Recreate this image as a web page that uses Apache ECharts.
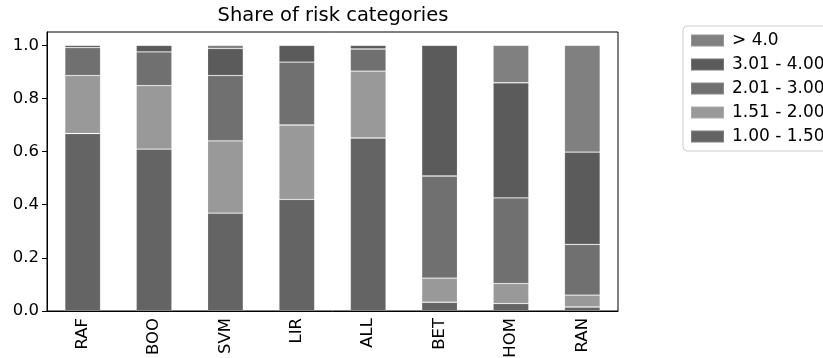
<!DOCTYPE html>
<html>
<head>
<meta charset="utf-8">
<script src="https://cdn.jsdelivr.net/npm/echarts@6/dist/echarts.min.js"></script>
<style>
  html, body { margin: 0; padding: 0; background: #fff; }
  #chart { width: 823px; height: 358px; }
</style>
</head>
<body>
<div id="chart"></div>
<script>
// Models compared
const models = ['RAF', 'BOO', 'SVM', 'LIR', 'ALL', 'BET', 'HOM', 'RAN'];

// Share of each risk category per model (stacked bottom to top)
const cat_1_00_1_50 = [0.668, 0.609, 0.368, 0.420, 0.651, 0.033, 0.028, 0.015];
const cat_1_51_2_00 = [0.218, 0.239, 0.272, 0.280, 0.252, 0.091, 0.075, 0.045];
const cat_2_01_3_00 = [0.105, 0.127, 0.246, 0.237, 0.083, 0.384, 0.323, 0.191];
const cat_3_01_4_00 = [0.009, 0.025, 0.102, 0.063, 0.014, 0.492, 0.433, 0.347];
const cat_above_4_0 = [0.000, 0.000, 0.012, 0.000, 0.000, 0.000, 0.141, 0.402];

const seriesNames = ['1.00 - 1.50', '1.51 - 2.00', '2.01 - 3.00', '3.01 - 4.00', '> 4.0'];
const seriesValues = [cat_1_00_1_50, cat_1_51_2_00, cat_2_01_3_00, cat_3_01_4_00, cat_above_4_0];
const seriesColors = ['#646464', '#999999', '#707070', '#5b5b5b', '#808080'];

const yTicks = [0, 0.2, 0.4, 0.6, 0.8, 1.0];

const FONT = 'DejaVu Sans';

const chart = echarts.init(document.getElementById('chart'), null, { renderer: 'canvas' });

chart.setOption({
  animation: false,
  backgroundColor: '#ffffff',
  title: {
    text: 'Share of risk categories',
    left: 333,
    top: 6,
    textAlign: 'center',
    padding: 0,
    textStyle: { fontFamily: FONT, fontSize: 19.5, fontWeight: 'normal', color: '#000' }
  },
  legend: {
    data: seriesNames.slice().reverse(),
    orient: 'vertical',
    left: 683,
    top: 26,
    padding: [6, 8, 6, 7],
    itemWidth: 33,
    itemHeight: 12,
    itemGap: 7,
    borderColor: '#cccccc',
    borderWidth: 1,
    borderRadius: 4,
    icon: 'rect',
    textStyle: { fontFamily: FONT, fontSize: 17, color: '#000', padding: [0, 0, 0, 3] }
  },
  grid: {
    left: 47,
    right: 205,
    top: 32,
    bottom: 47,
    outerBoundsMode: 'none',
    containLabel: false,
    show: true,
    borderColor: '#000',
    borderWidth: 1
  },
  xAxis: {
    type: 'category',
    data: models,
    boundaryGap: true,
    axisLine: { lineStyle: { color: '#000', width: 1 } },
    axisTick: { alignWithLabel: true, length: 5, lineStyle: { color: '#000' } },
    axisLabel: {
      rotate: 90,
      margin: 7,
      fontFamily: FONT,
      fontSize: 16.5,
      color: '#000'
    },
    splitLine: { show: false }
  },
  yAxis: {
    type: 'value',
    min: 0,
    max: 1.05,
    axisLine: { show: true, lineStyle: { color: '#000', width: 1 } },
    axisTick: { show: true, length: 5, lineStyle: { color: '#000' }, customValues: yTicks },
    axisLabel: {
      customValues: yTicks,
      margin: 8,
      fontFamily: FONT,
      fontSize: 16.5,
      color: '#000',
      formatter: v => v.toFixed(1)
    },
    splitLine: { show: false }
  },
  series: seriesNames.map((name, i) => ({
    name: name,
    type: 'bar',
    stack: 'share',
    barWidth: '50%',
    data: seriesValues[i],
    itemStyle: {
      color: seriesColors[i],
      borderColor: 'rgba(255,255,255,0.18)',
      borderWidth: 0.8
    },
    emphasis: { disabled: true }
  }))
});
</script>
</body>
</html>
